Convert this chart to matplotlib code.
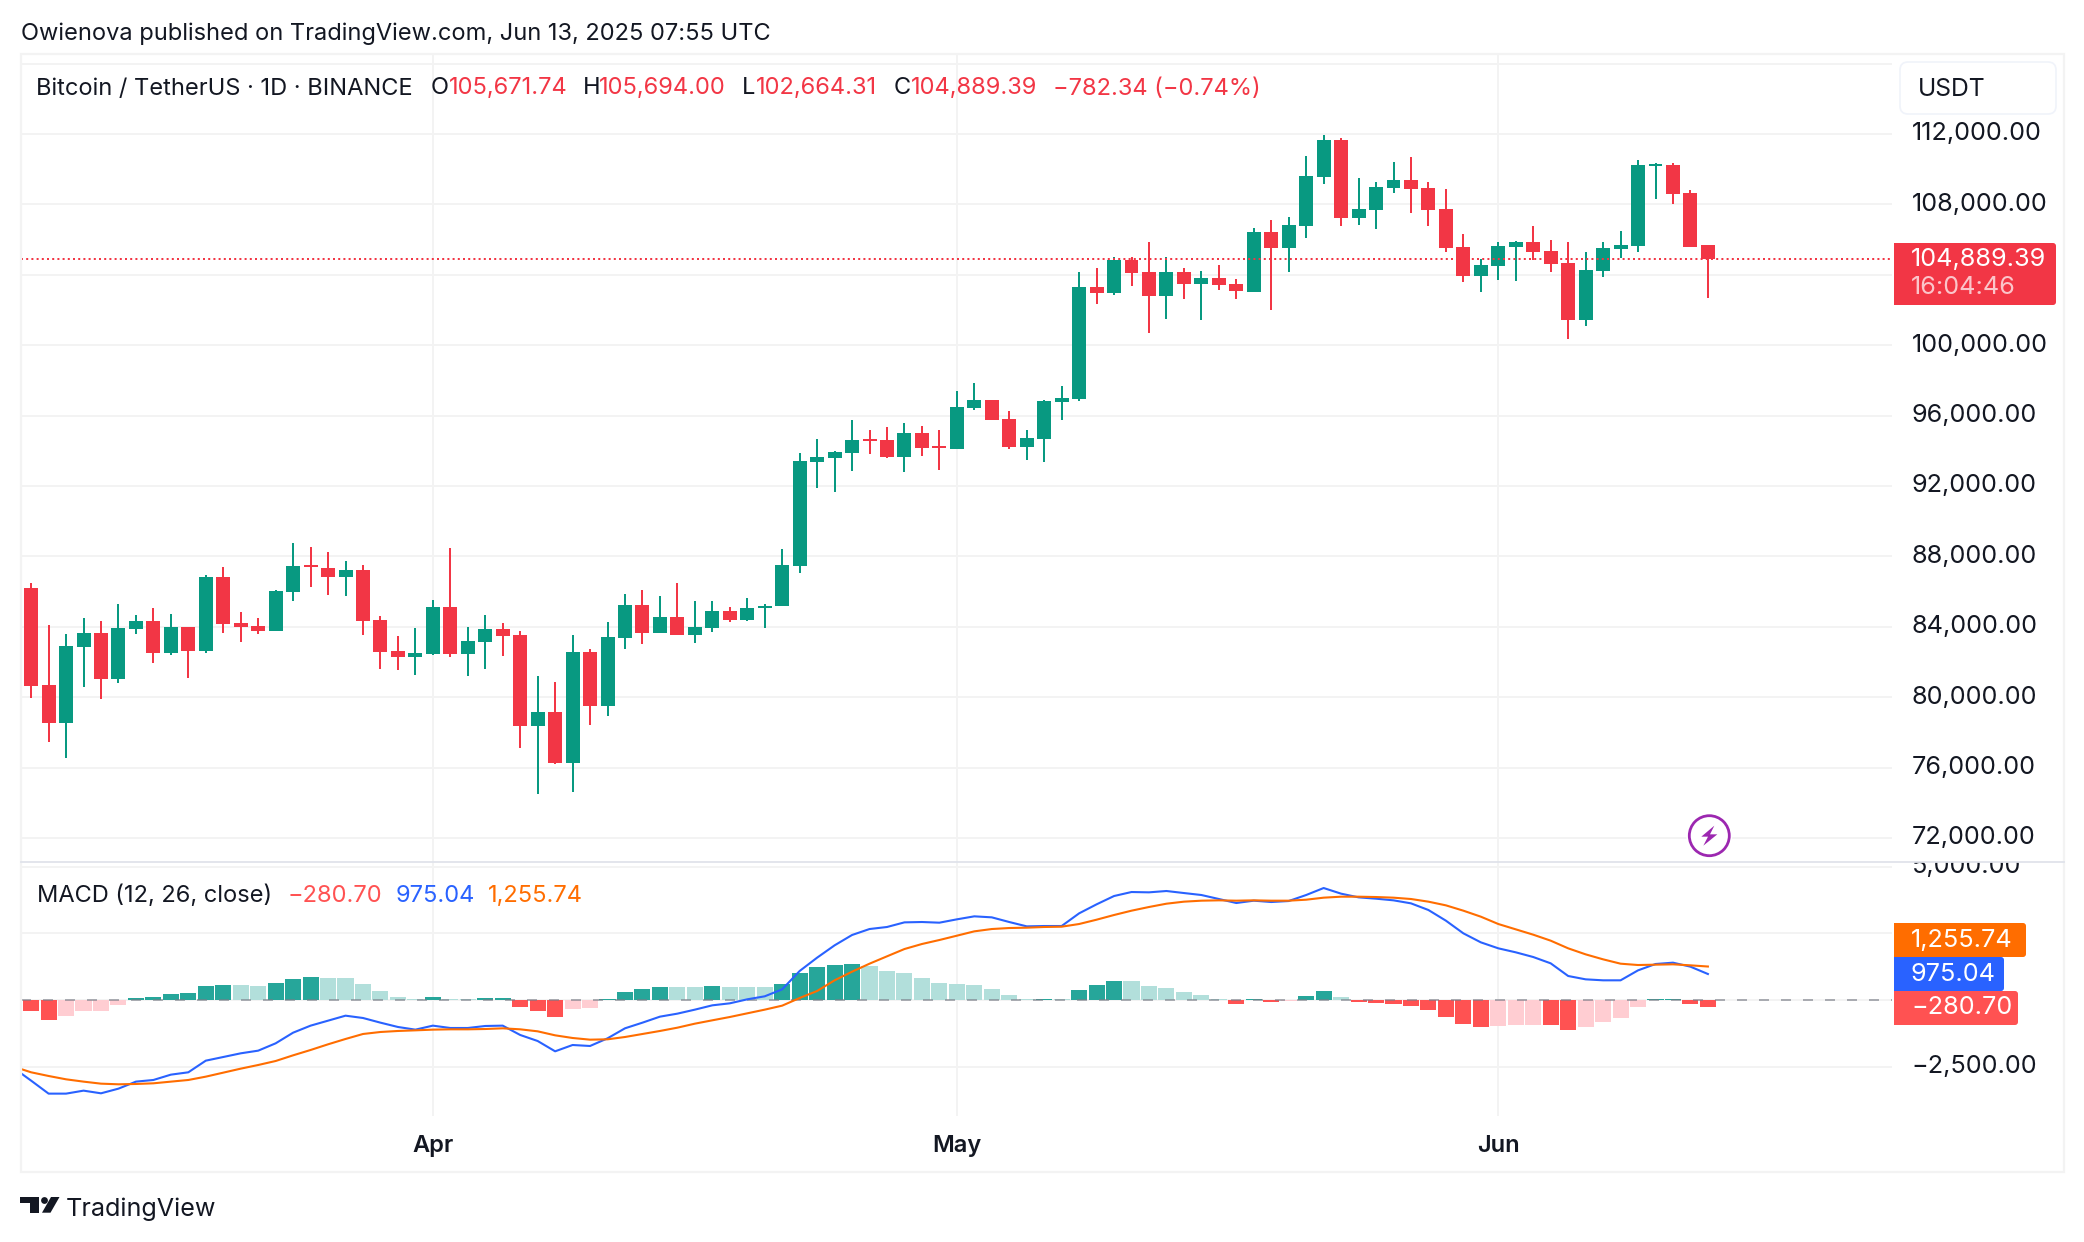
import numpy as np
import matplotlib
matplotlib.use("Agg")
import matplotlib.pyplot as plt
from matplotlib.patches import Rectangle, FancyBboxPatch, Circle, Polygon
from matplotlib.transforms import Bbox

plt.rcParams['font.family'] = ['Inter', 'DejaVu Sans']

# daily candles, Mar 9 to Jun 13 2025 (day 0 is Apr 1)
opens = [86199, 80682, 78521, 82843, 83640, 81023, 83867, 84322, 82502, 83981, 82616, 86825, 84209, 84038, 83754,
         85972, 87508, 87337, 86825, 87223, 84379, 82616, 82275, 82445, 85119, 82445, 83128, 83867, 83526, 78350,
         79146, 76245, 82559, 79487, 83355, 85232, 83640, 84550, 83526, 83924, 84891, 84379, 85062, 85176, 87451,
         93384, 93611, 93895, 94692, 94635, 93668, 95033, 94275, 94123, 96455, 96910, 95829, 94237, 94692, 96796,
         96967, 103281, 102939, 104816, 104134, 102769, 104134, 103451, 103793, 103451, 103014, 106427, 105517, 106768, 109555,
         111660, 107223, 107678, 108930, 109385, 108930, 107735, 105574, 103924, 104493, 105574, 105858, 105346, 104664, 101421,
         104209, 105460, 105631, 110181, 110238, 108645, 105671.74]
highs = [86484, 84095, 83583, 84493, 84322, 85289, 84664, 85062, 84720, 83981, 86939, 87394, 84834, 84493, 86086,
         88759, 88531, 88247, 87735, 87508, 84607, 83469, 83924, 85517, 88475, 83981, 84664, 84209, 83754, 81194,
         80853, 83526, 82730, 84265, 85858, 86086, 85744, 86484, 85460, 85460, 85119, 85631, 85289, 88418, 93878,
         94692, 94009, 95772, 95204, 95374, 95602, 95431, 95204, 97422, 97877, 96910, 96284, 95204, 96910, 97706,
         104134, 104361, 104987, 104987, 105840, 104987, 104361, 104191, 104532, 103736, 106654, 107109, 107280, 110750, 111944,
         111774, 109498, 109271, 110408, 110693, 109271, 108873, 106313, 104891, 105858, 105915, 106768, 105972, 105858, 105289,
         105858, 106484, 110522, 110352, 110352, 108816, 105694.00]
lows = [79943, 77440, 76530, 80568, 79886, 80796, 83583, 81933, 82388, 81080, 82502, 83640, 83128, 83583, 83754,
        85460, 86256, 85801, 85744, 83526, 81592, 81535, 81251, 82388, 82275, 81194, 81592, 82332, 77099, 74482,
        76188, 74596, 78407, 78919, 82730, 83014, 83640, 83526, 83071, 83697, 84265, 84322, 83924, 85176, 87053,
        91905, 91677, 92872, 93839, 93611, 92815, 93725, 92928, 94123, 96341, 95772, 94123, 93497, 93384, 95772,
        96853, 102314, 102826, 103338, 100721, 101460, 102598, 101404, 103110, 102598, 103014, 101990, 104152, 106086, 109157,
        106768, 106825, 106598, 108645, 107508, 106768, 105289, 103583, 103014, 103697, 103640, 104834, 104152, 100341, 101080,
        103867, 104948, 105289, 108304, 108020, 105574, 102664.31]
closes = [80625, 78521, 82900, 83640, 81023, 83924, 84322, 82502, 83981, 82616, 86825, 84152, 83981, 83754, 86029,
          87451, 87394, 86825, 87223, 84322, 82559, 82275, 82502, 85119, 82445, 83185, 83867, 83469, 78350, 79146,
          76245, 82559, 79487, 83412, 85232, 83640, 84550, 83526, 83981, 84891, 84379, 85062, 85176, 87508, 93423,
          93668, 93952, 94635, 94578, 93668, 95033, 94180, 94180, 96512, 96910, 95772, 94237, 94749, 96853, 97024,
          103281, 102939, 104816, 104077, 102769, 104134, 103451, 103793, 103394, 103053, 106427, 105517, 106825, 109612, 111660,
          107223, 107735, 108986, 109385, 108873, 107678, 105517, 103924, 104550, 105631, 105858, 105289, 104607, 101421, 104265,
          105517, 105687, 110238, 110295, 108588, 105574, 104889.39]

# MACD pane: first line point is one day left of the first candle
macd_line = [-2550, -3025, -3512, -3512, -3400, -3500, -3325, -3062, -3000, -2800, -2712, -2275, -2138, -2000, -1900, -1625,
             -1225, -962, -775, -588, -675, -850, -1012, -1112, -962, -1050, -1050, -975, -962, -1312, -1538, -1925,
             -1688, -1725, -1438, -1062, -850, -625, -512, -362, -200, -125, 25, 138, 400, 1088, 1588, 2050,
             2438, 2662, 2738, 2912, 2925, 2900, 3025, 3138, 3100, 2925, 2762, 2775, 2775, 3250, 3588, 3900,
             4050, 4038, 4088, 4012, 3938, 3788, 3638, 3725, 3675, 3712, 3938, 4200, 3988, 3850, 3800, 3738,
             3625, 3375, 2975, 2500, 2162, 1938, 1788, 1612, 1375, 900, 775, 738, 738, 1112, 1350, 1400, 1250, 975.04]
signal_line = [-2500, -2712, -2850, -2975, -3062, -3138, -3162, -3150, -3125, -3062, -3000, -2875, -2725, -2575, -2438, -2288,
               -2075, -1875, -1662, -1462, -1275, -1200, -1162, -1138, -1112, -1100, -1100, -1088, -1062, -1100, -1175, -1325,
               -1425, -1488, -1475, -1388, -1275, -1162, -1038, -888, -762, -638, -500, -362, -212, 75, 338, 738,
               1062, 1362, 1638, 1912, 2100, 2250, 2412, 2575, 2662, 2700, 2712, 2738, 2750, 2850, 3012, 3188,
               3350, 3488, 3612, 3688, 3725, 3738, 3725, 3738, 3725, 3725, 3762, 3838, 3875, 3875, 3862, 3838,
               3788, 3688, 3550, 3350, 3125, 2850, 2650, 2450, 2225, 1938, 1712, 1525, 1362, 1312, 1325, 1338, 1300, 1255.74]
hist = [-412, -750, -600, -412, -412, -188, 75, 112, 225, 262, 525, 562, 562, 525, 638, 788, 862, 825, 825, 600,
        338, 112, 38, 112, 38, 38, 75, 75, -262, -412, -638, -338, -300, 38, 300, 412, 488, 488, 488, 525,
        488, 488, 488, 600, 1012, 1238, 1312, 1350, 1275, 1088, 1012, 825, 638, 600, 562, 412, 188, 38, 38, 38,
        375, 562, 712, 712, 525, 450, 300, 188, 38, -150, 38, -75, -38, 150, 338, 112, -75, -112, -150, -225,
        -375, -638, -900, -1012, -975, -938, -938, -938, -1125, -1012, -825, -675, -262, 38, 38, -150, -280.70]
hist_strong = [1, 1, 0, 0, 0, 0, 1, 1, 1, 1, 1, 1, 0, 0, 1, 1, 1, 0, 0, 0,
               0, 0, 0, 1, 0, 0, 1, 1, 1, 1, 1, 0, 0, 1, 1, 1, 1, 0, 0, 1,
               0, 0, 0, 1, 1, 1, 1, 1, 0, 0, 0, 0, 0, 0, 0, 0, 0, 0, 1, 0,
               1, 1, 1, 0, 0, 0, 0, 0, 0, 1, 1, 1, 0, 1, 1, 0, 1, 1, 1, 1,
               1, 1, 1, 1, 0, 0, 0, 1, 1, 0, 0, 0, 0, 1, 1, 1, 1]

price_ticks = [116000, 112000, 108000, 104000, 100000, 96000, 92000, 88000, 84000, 80000, 76000, 72000]
macd_ticks = [5000, 2500, 0, -2500]
month_days = [0, 30, 61]
month_labels = ['Apr', 'May', 'Jun']

UP = '#089981'
DOWN = '#F23645'
GRID = '#F3F3F3'
INK = '#131722'
HEAD = 17      # header text size
SCALE = 18.2   # price scale text size

W, H = 2084, 1242
fig = plt.figure(figsize=(W / 100, H / 100), dpi=100, facecolor='white')


def pane(left, top, right, bottom):
    return fig.add_axes([left / W, 1 - bottom / H, (right - left) / W, (bottom - top) / H])


ax = pane(21, 54, 1892, 862)
ax2 = pane(21, 862, 1892, 1116)

days = np.arange(-23, 74)
line_days = np.arange(-24, 74)
x_range = (-23.58, 83.54)

# candles
opens_a, closes_a = np.array(opens), np.array(closes)
colors = [UP if c >= o else DOWN for o, c in zip(opens, closes)]
ax.vlines(days, lows, highs, colors=colors, linewidth=1.44, zorder=3)
ax.bar(days, np.abs(closes_a - opens_a), bottom=np.minimum(opens_a, closes_a), width=0.8, color=colors, zorder=4)
ax.plot(x_range, [closes[-1], closes[-1]], color=DOWN, linewidth=1.44, linestyle=(0, (1, 1.6)),
        dash_capstyle='butt', zorder=5)

ax.set_xlim(*x_range)
ax.set_ylim(70636, 116545)
ax.set_yticks(price_ticks)
ax.set_yticklabels([''] + [f'{t:,.2f}' for t in price_ticks[1:]])

# MACD
hist_colors = []
for v, s in zip(hist, hist_strong):
    if v >= 0:
        hist_colors.append('#26A69A' if s else '#B2DFDB')
    else:
        hist_colors.append('#FF5252' if s else '#FFCDD2')
ax2.bar(days, hist, width=0.92, color=hist_colors, zorder=3)
ax2.axhline(0, color='#787B86', alpha=0.6, linewidth=1.44, linestyle=(0, (5, 6)), zorder=4)
ax2.plot(line_days, macd_line, color='#2962FF', linewidth=1.5, zorder=5)
ax2.plot(line_days, signal_line, color='#FF6D00', linewidth=1.5, zorder=6)
ax2.set_xlim(*x_range)
ax2.set_ylim(-4351, 5176)
ax2.set_yticks(macd_ticks)
ax2.set_yticklabels(['5,000.00', '', '', '\u22122,500.00'])

for a in (ax, ax2):
    a.set_facecolor('none')
    a.grid(True, color=GRID, linewidth=1.44, zorder=0)
    a.set_axisbelow(True)
    a.set_xticks(month_days)
    a.yaxis.tick_right()
    a.tick_params(axis='y', length=0, pad=14, labelsize=SCALE, labelcolor=INK)
    a.tick_params(axis='x', length=0)
    for s in a.spines.values():
        s.set_visible(False)
    for lab in a.get_yticklabels():
        lab.set_verticalalignment('center')
ax.set_xticklabels([])
ax2.set_xticklabels(month_labels, fontsize=17, fontweight='semibold', color=INK)
ax2.tick_params(axis='x', pad=14)

# the 5,000 label is cut by the pane above it
clip = Bbox([[0, 0], [W, H - 862]])
for lab in ax2.get_yticklabels():
    lab.set_clip_box(clip)
    lab.set_clip_on(True)

# overlay in pixel coordinates for the frame, labels and logo
ov = fig.add_axes([0, 0, 1, 1], zorder=10)
ov.set_xlim(0, W)
ov.set_ylim(H, 0)
ov.axis('off')
ov.patch.set_alpha(0)

ov.add_patch(Rectangle((21, 54), 2043, 1118, fill=False, edgecolor=GRID, linewidth=1.6))
ov.plot([21, 2064], [862, 862], color='#E0E3EB', linewidth=1.3)


def tag(x0, y0, x1, y1, color):
    ov.add_patch(FancyBboxPatch((x0, y0), x1 - x0, y1 - y0, boxstyle='round,pad=0,rounding_size=3',
                                facecolor=color, edgecolor='none'))
    ov.add_patch(Rectangle((x0, y0), 8, y1 - y0, facecolor=color, edgecolor='none'))


tag(1894, 243, 2056, 305, DOWN)
ov.text(1911, 260, '104,889.39', color='white', fontsize=SCALE, va='center')
ov.text(1911, 287, '16:04:46', color='#FBC5CA', fontsize=SCALE, va='center')

tag(1894, 923, 2026, 957, '#FF6D00')
tag(1894, 957, 2004, 991, '#2962FF')
tag(1894, 991, 2018, 1025, '#FF5252')
ov.text(1911, 940.5, '1,255.74', color='white', fontsize=SCALE, va='center')
ov.text(1911, 974.5, '975.04', color='white', fontsize=SCALE, va='center')
ov.text(1911, 1007, '\u2212280.70', color='white', fontsize=SCALE, va='center')

# USDT button
ov.add_patch(FancyBboxPatch((1900, 62), 156, 52, boxstyle='round,pad=0,rounding_size=8',
                            facecolor='white', edgecolor='#F0F3FA', linewidth=1.2))
ov.text(1918, 90, 'USDT', color=INK, fontsize=17.8, va='center')

# header texts
ov.text(21, 34, 'Owienova published on TradingView.com, Jun 13, 2025 07:55 UTC', color=INK, fontsize=HEAD, va='center')
ov.text(36.5, 88.5, 'Bitcoin / TetherUS \u00b7 1D \u00b7 BINANCE', color=INK, fontsize=HEAD, va='center')
for x, vx, label, val in [(431, 448.6, 'O', '105,671.74'), (583, 598.7, 'H', '105,694.00'),
                          (742, 756, 'L', '102,664.31'), (894, 910.5, 'C', '104,889.39')]:
    ov.text(x, 88.5, label, color=INK, fontsize=HEAD, va='center')
    ov.text(vx, 88.5, val, color=DOWN, fontsize=HEAD, va='center')
ov.text(1053, 88.5, '\u2212782.34 (\u22120.74%)', color=DOWN, fontsize=HEAD, va='center')

ov.text(36.7, 896, 'MACD (12, 26, close)', color=INK, fontsize=HEAD, va='center')
ov.text(288, 896, '\u2212280.70', color='#FF5252', fontsize=HEAD, va='center')
ov.text(396, 896, '975.04', color='#2962FF', fontsize=HEAD, va='center')
ov.text(487.6, 896, '1,255.74', color='#FF6D00', fontsize=HEAD, va='center')

# alert icon
ov.add_patch(Circle((1709.3, 835.7), 23, facecolor='white', edgecolor='none'))
ov.add_patch(Circle((1709.3, 835.7), 20, facecolor='white', edgecolor='#9C27B0', linewidth=2))
bolt = [(103, 62), (64, 95), (84, 95), (70, 122), (112, 88), (90, 88)]
ov.add_patch(Polygon([(1680 + a / 3, 805 + b / 3) for a, b in bolt], facecolor='#9C27B0', edgecolor='none'))

# TradingView logo
ov.add_patch(Polygon([(20, 1197), (39.3, 1197), (39.3, 1212.7), (30, 1212.7), (30, 1203.3), (20, 1203.3)],
                     facecolor=INK, edgecolor='none'))
ov.add_patch(Circle((44.5, 1200.5), 3.4, facecolor=INK, edgecolor='none'))
ov.add_patch(Polygon([(51, 1197), (59.5, 1197), (50.5, 1212.7), (42, 1212.7)], facecolor=INK, edgecolor='none'))
ov.text(66, 1209, 'TradingView', color=INK, fontsize=18.1, va='center')

fig.savefig('out.png', dpi=100)
